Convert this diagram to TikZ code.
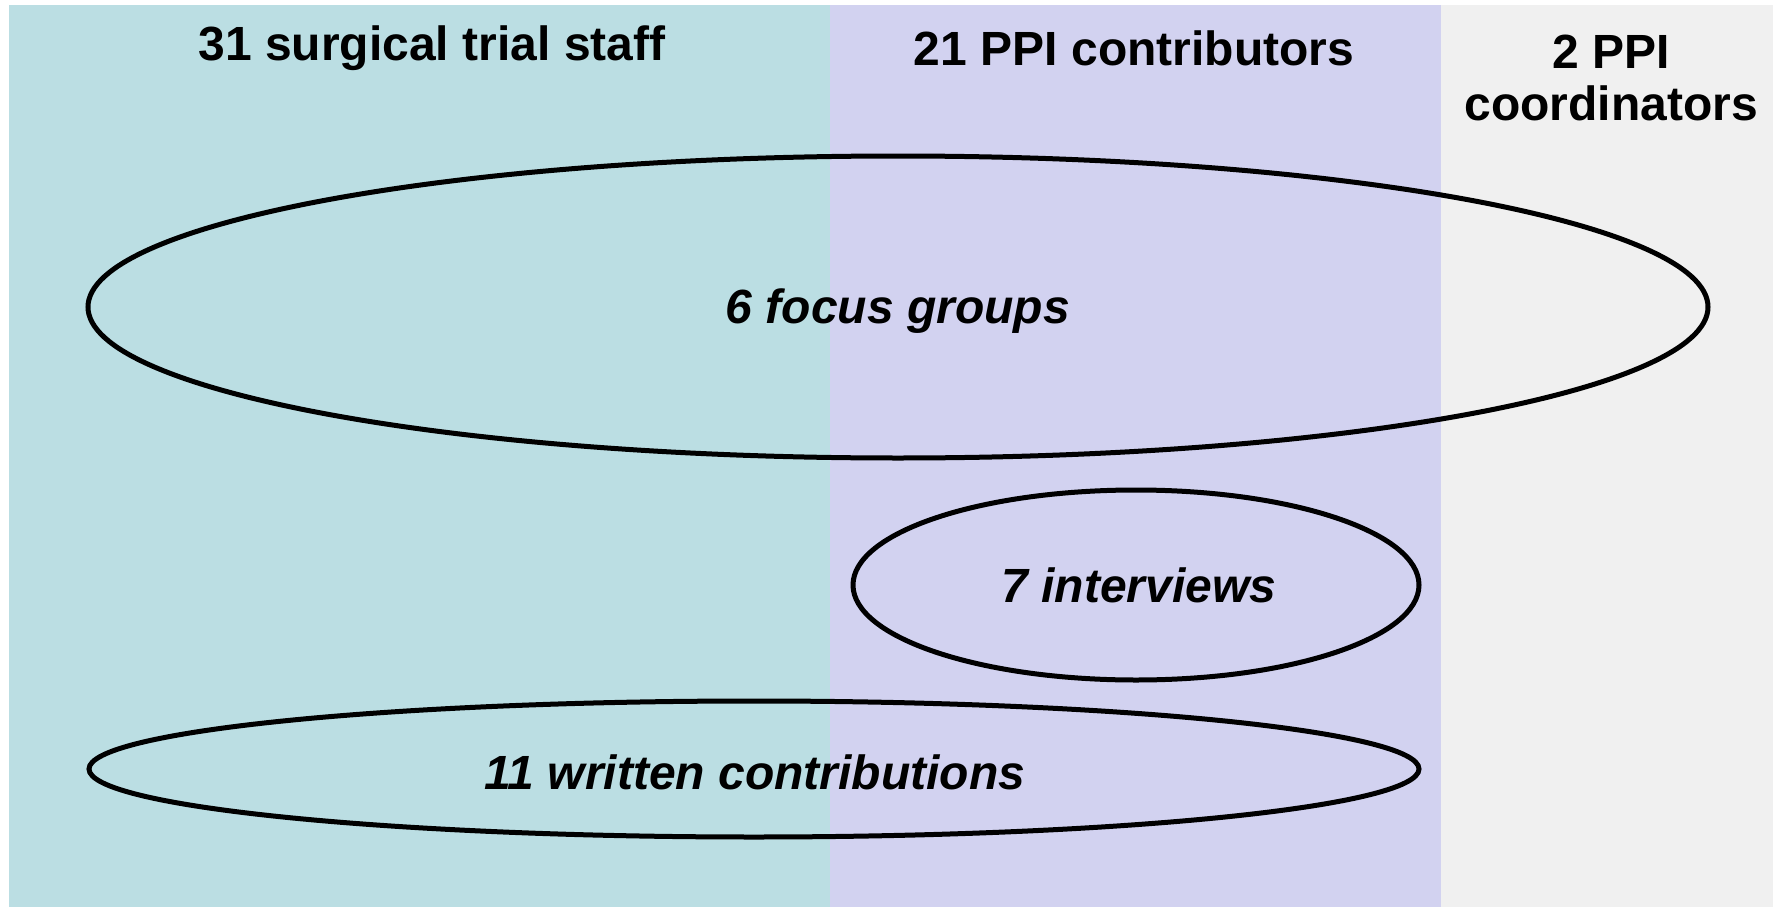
\documentclass[tikz,border=0pt]{standalone}
\usepackage{fontspec}
\setmainfont{Liberation Sans}
\definecolor{cyanbg}{HTML}{BBDEE3}
\definecolor{purplebg}{HTML}{D2D2F0}
\definecolor{graybg}{HTML}{F0F0F0}
\begin{document}
\begin{tikzpicture}[x=1pt,y=-1pt,
  head/.style={font=\bfseries\fontsize{48}{54}\selectfont, align=center, inner sep=0pt},
  lab/.style={font=\bfseries\itshape\fontsize{48}{54}\selectfont, inner sep=0pt},
  ring/.style={draw=black, line width=5pt}]
\useasboundingbox (0,0) rectangle (1773,907);
\fill[white] (0,0) rectangle (1773,907);
\fill[cyanbg] (9,5) rectangle (830,907);
\fill[purplebg] (830,5) rectangle (1441,907);
\fill[graybg] (1441,5) rectangle (1773,907);
\node[head] (h1) at (432,48) {31 surgical trial staff};
\node[head] (h2) at (1134,48) {21 PPI contributors};
\node[head] (h3) at (1611,78) {2 PPI\\[-2pt]coordinators};
\draw[ring] (898,307) ellipse [x radius=810, y radius=151];
\draw[ring] (1136,585) ellipse [x radius=283, y radius=95];
\draw[ring] (754,769) ellipse [x radius=665, y radius=68];
\node[lab] (fg) at (898,311) {6 focus groups};
\node[lab] (iv) at (1139,585) {7 interviews};
\node[lab] (wc) at (755,772) {11 written contributions};
\end{tikzpicture}
\end{document}
